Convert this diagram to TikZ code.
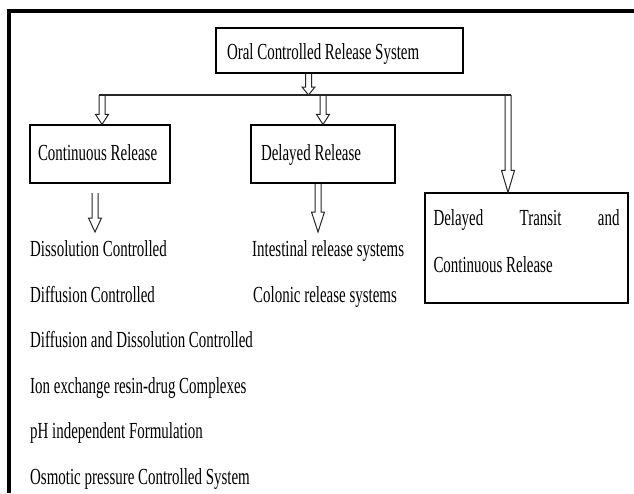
\documentclass[tikz,border=0pt]{standalone}
\usepackage{fontspec}
\setmainfont{Liberation Serif}[FakeStretch=0.65]
\usetikzlibrary{calc}
\tikzset{
  every node/.style={font=\fontsize{23pt}{27pt}\selectfont, text=black},
  box/.style={draw=black, line width=1.2pt, rectangle, inner ysep=0pt, align=flush left},
  itemtxt/.style={anchor=base west, inner sep=0pt},
  hollow/.style={draw=black!85, line width=1pt, line join=miter},
  busline/.style={draw=black!85, line width=1.5pt},
  frameline/.style={draw=black, line width=4pt, line join=miter}
}
\newcommand\harrow[3]{%
  \draw[hollow] let \p1=(#1), \p2=(#2) in
    (\x1-3pt,\y1) -- (\x1-3pt,\y2+#3) -- (\x1-6.5pt,\y2+#3) -- (\x1,\y2)
    -- (\x1+6.5pt,\y2+#3) -- (\x1+3pt,\y2+#3) -- (\x1+3pt,\y1);}
\newcommand\natsp{\spaceskip=0pt\xspaceskip=0pt\relax}
\begin{document}
\begin{tikzpicture}[x=1pt,y=-1pt]
\useasboundingbox (0,0) rectangle (634,493);
\fill[white] (0,0) rectangle (634,493);
\draw[frameline] (9,493) -- (9,11) -- (634,11);

% boxes
\node[box, minimum width=247pt, minimum height=45pt, text width=225pt, inner xsep=11pt]
  (top) at (339.5,50.5) {\natsp\rule[-5pt]{0pt}{27pt}Oral Controlled Release System};
\node[box, minimum width=140pt, minimum height=58pt, text width=124pt, inner xsep=8pt]
  (cont) at (100,154) {\natsp\rule[-5pt]{0pt}{22pt}Continuous Release};
\node[box, minimum width=144pt, minimum height=58pt, text width=124pt, inner xsep=10pt]
  (del) at (323,154) {\natsp\rule[-5pt]{0pt}{22pt}Delayed Release};
\node[box, minimum width=203pt, minimum height=110pt, text width=186pt, inner xsep=8.5pt,
  font=\fontsize{23pt}{47pt}\selectfont]
  (dtc) at (526.5,248) {\natsp\rule{0pt}{16pt}\makebox[186pt]{Delayed\hfill Transit\hfill and}\\
  \rule[-15pt]{0pt}{15pt}Continuous Release};

% bus
\path (top.south) ++(-31,0) coordinate (t0);
\coordinate (tb) at (308.5,95);
\coordinate (busL) at (99,95);
\coordinate (busR) at (511,95);
\coordinate (bL) at (102,95);
\coordinate (bM) at (323,95);
\coordinate (bR) at (508,95);
\draw[busline] (busL) -- (busR);
\harrow{t0}{tb}{8pt}
\harrow{bL}{cont.north}{10pt}
\harrow{bM}{del.north}{10pt}
\harrow{bR}{dtc.north}{22pt}

% lower arrows
\coordinate (cA) at (95,193);
\coordinate (cB) at (95,232);
\path (del.south) ++(-5,0) coordinate (dA);
\coordinate (dB) at (318,232);
\harrow{cA}{cB}{14pt}
\harrow{dA}{dB}{20pt}

% lists
\node[itemtxt] (l1) at (30,256.5) {Dissolution Controlled};
\node[itemtxt] (l2) at (30,302) {Diffusion Controlled};
\node[itemtxt] (l3) at (30,347.5) {Diffusion and Dissolution Controlled};
\node[itemtxt] (l4) at (30,393) {Ion exchange resin-drug Complexes};
\node[itemtxt] (l5) at (30,438.5) {pH independent Formulation};
\node[itemtxt] (l6) at (30,484) {Osmotic pressure Controlled System};
\node[itemtxt] (m1) at (252,256.5) {Intestinal release systems};
\node[itemtxt] (m2) at (253,302) {Colonic release systems};
\end{tikzpicture}
\end{document}
